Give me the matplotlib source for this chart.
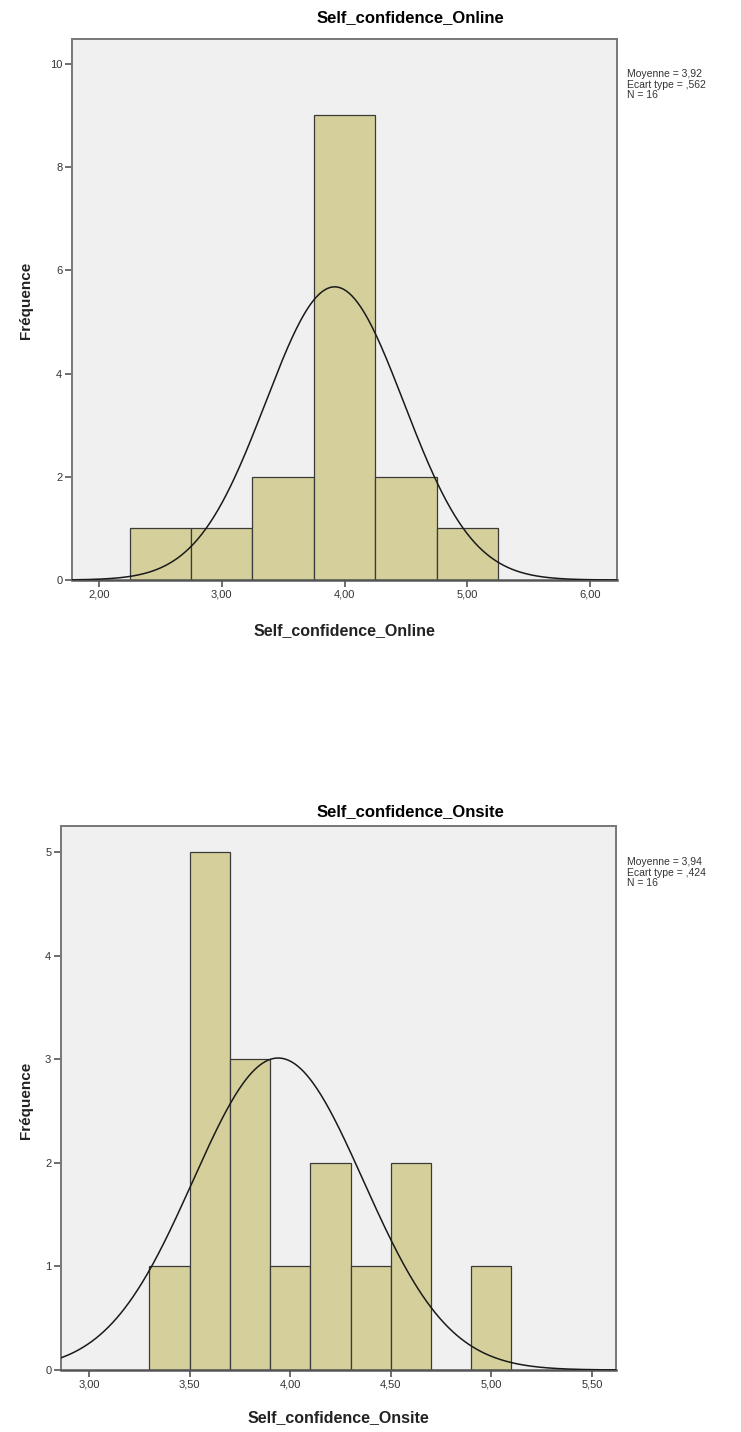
import numpy as np
import matplotlib
matplotlib.use("Agg")
import matplotlib.pyplot as plt

plt.rcParams['font.family'] = ['Liberation Sans', 'DejaVu Sans']

# Self_confidence_Online
online_edges = [2.25, 2.75, 3.25, 3.75, 4.25, 4.75, 5.25]
online_counts = [1, 1, 2, 9, 2, 1]
online_mean, online_sd, online_n = 3.92, 0.562, 16
online_xticks = [2.0, 3.0, 4.0, 5.0, 6.0]
online_yticks = [0, 2, 4, 6, 8, 10]
online_stats = ["Moyenne = 3,92", "Ecart type = ,562", "N = 16"]

# Self_confidence_Onsite
onsite_edges = [3.3, 3.5, 3.7, 3.9, 4.1, 4.3, 4.5, 4.7, 4.9, 5.1]
onsite_counts = [1, 5, 3, 1, 2, 1, 2, 0, 1]
onsite_mean, onsite_sd, onsite_n = 3.94, 0.424, 16
onsite_xticks = [3.0, 3.5, 4.0, 4.5, 5.0, 5.5]
onsite_yticks = [0, 1, 2, 3, 4, 5]
onsite_stats = ["Moyenne = 3,94", "Ecart type = ,424", "N = 16"]

W, H = 741, 1432
BAR = '#d5d09b'
BG = '#f0f0f0'


def px(x0, y0, x1, y1):
    return [x0 / W, 1 - y1 / H, (x1 - x0) / W, (y1 - y0) / H]


def hist_panel(box, name, edges, counts, mean, sd, n, xticks, yticks,
               xlim, ylim, stats, title_y, xlabel_y, ylabel_y, stats_y):
    ax = fig.add_axes(px(*box))
    ax.set_facecolor(BG)
    edges = np.array(edges)
    widths = np.diff(edges)
    ax.bar(edges[:-1], counts, width=widths, align='edge', color=BAR,
           edgecolor='#3a3a3a', linewidth=0.9, zorder=2)
    xs = np.linspace(xlim[0], xlim[1], 400)
    bw = widths[0]
    ys = n * bw / (sd * np.sqrt(2 * np.pi)) * np.exp(-0.5 * ((xs - mean) / sd) ** 2)
    ax.plot(xs, ys, color='#1a1a1a', linewidth=1.1, zorder=3)
    ax.set_xlim(*xlim)
    ax.set_ylim(*ylim)
    ax.set_xticks(xticks)
    ax.set_xticklabels([f"{t:.2f}".replace('.', ',') for t in xticks])
    ax.set_yticks(yticks)
    ax.set_yticklabels([str(t) for t in yticks])
    ax.tick_params(direction='out', length=5, width=1.2, color='#555555',
                   labelsize=8, labelcolor='#333333', pad=2)
    for s in ax.spines.values():
        s.set_color('#777777')
        s.set_linewidth(1.4)
    ax.spines['bottom'].set_color('#555555')
    ax.spines['bottom'].set_linewidth(1.8)
    cx = (box[0] + box[2]) / 2
    fig.text(26 / W, 1 - ylabel_y / H, 'Fréquence', rotation=90,
             ha='center', va='center', fontsize=11, fontweight='bold',
             color='#222222')
    fig.text(410 / W, 1 - title_y / H, name, ha='center', va='center',
             fontsize=12, fontweight='bold')
    fig.text(cx / W, 1 - xlabel_y / H, name, ha='center', va='center',
             fontsize=11.5, fontweight='bold', color='#222222')
    for i, line in enumerate(stats):
        fig.text(627 / W, 1 - (stats_y + i * 10.5) / H, line, ha='left',
                 va='center', fontsize=7.5, color='#333333')
    return ax


fig = plt.figure(figsize=(W / 100, H / 100), dpi=100)

hist_panel((72, 39, 617, 580), 'Self_confidence_Online', online_edges,
           online_counts, online_mean, online_sd, online_n, online_xticks,
           online_yticks, (1.78, 6.22), (0, 10.48), online_stats,
           title_y=18, xlabel_y=631, ylabel_y=300, stats_y=74)

hist_panel((61, 826, 616, 1370), 'Self_confidence_Onsite', onsite_edges,
           onsite_counts, onsite_mean, onsite_sd, onsite_n, onsite_xticks,
           onsite_yticks, (2.86, 5.62), (0, 5.25), onsite_stats,
           title_y=812, xlabel_y=1418, ylabel_y=1100, stats_y=862)

fig.savefig('out.png', dpi=100)
